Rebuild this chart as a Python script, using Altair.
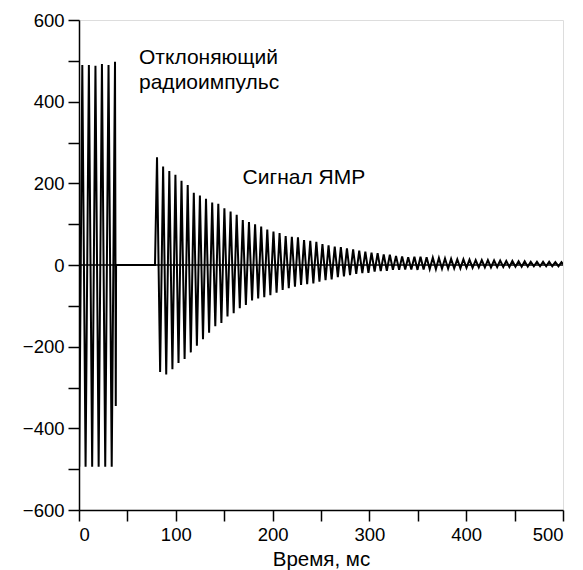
import altair as alt
import pandas as pd

# Deflecting RF pulse: vertices (time, ms / amplitude)
pulse_t = [0.0, 0.2, 3.4, 6.8, 10.2, 13.6, 17.0, 20.3, 23.7, 27.1, 30.5, 33.8, 37.2, 38.0, 38.3]
pulse_v = [0, -494, 490, -494, 490, -494, 488, -494, 492, -494, 490, -494, 498, -345, 0]

# NMR signal: positive peaks
sig_pos_t = [80.6, 86.9, 93.3, 99.6, 105.9, 112.3, 118.6, 124.9, 131.2, 137.6,
             143.9, 150.2, 156.6, 162.9, 169.2, 175.6, 181.9, 188.2, 194.5, 200.9,
             207.2, 213.5, 219.9, 226.2, 232.5, 238.9, 245.2, 251.5, 257.8, 264.2,
             270.5, 276.8, 283.2, 289.5, 295.8, 302.2, 308.5, 314.8, 321.1, 327.5,
             333.8, 340.1, 346.5, 352.8, 359.1, 365.5, 371.8, 378.1, 384.4, 390.8,
             397.1, 403.4, 409.8, 416.1, 422.4, 428.8, 435.1, 441.4, 447.7, 454.1,
             460.4, 466.7, 473.1, 479.4, 485.7, 492.1, 498.4]
sig_pos_v = [264, 241, 230, 221, 206, 196, 177, 170, 162, 153, 150, 139, 131, 123,
             110, 105, 100, 94, 87, 82, 78, 71, 69, 68, 61, 59, 57, 51,
             48, 45, 44, 41, 38, 35, 33, 30, 29, 26, 25, 22,
             21, 19, 20, 20, 19, 18, 17, 16, 15, 14, 14, 13, 12, 12,
             12, 11, 11, 10, 10, 9, 9, 8, 8, 8, 8, 7, 7]

# NMR signal: negative peaks
sig_neg_t = [83.8, 90.1, 96.5, 102.8, 109.1, 115.5, 121.8, 128.1, 134.4, 140.8,
             147.1, 153.4, 159.8, 166.1, 172.4, 178.8, 185.1, 191.4, 197.7, 204.1,
             210.4, 216.7, 223.1, 229.4, 235.7, 242.1, 248.4, 254.7, 261.0, 267.4,
             273.7, 280.0, 286.4, 292.7, 299.0, 305.4, 311.7, 318.0, 324.3, 330.7,
             337.0, 343.3, 349.7, 356.0, 362.3, 368.7, 375.0, 381.3, 387.6, 394.0,
             400.3, 406.6, 413.0, 419.3, 425.6, 432.0, 438.3, 444.6, 450.9, 457.3,
             463.6, 469.9, 476.3, 482.6, 488.9, 495.3]
sig_neg_v = [-262, -268, -255, -240, -230, -214, -198, -182, -166, -150, -142, -126, -118, -106,
             -98, -87, -82, -79, -74, -68, -61, -57, -53, -49, -47, -45, -41, -37,
             -35, -30, -28, -25, -22, -20, -19, -16, -15, -14, -12, -12,
             -11, -11, -12, -11, -10, -10, -9, -9, -8, -8, -7, -7, -6, -6,
             -6, -5, -5, -5, -4, -4, -4, -3, -3, -3, -3, -3]

sig_start = (78.5, 0)
sig_end = (500.0, 2)

labels_text = ["Отклоняющий", "радиоимпульс", "Сигнал ЯМР"]
labels_t = [62, 62, 169]
labels_v = [507, 446, 213]

x_ticks = list(range(0, 501, 50))
y_ticks = list(range(-600, 601, 100))

# build the ordered vertex table
ts, vs = list(pulse_t), list(pulse_v)
ts.append(sig_start[0]); vs.append(sig_start[1])
for i in range(len(sig_pos_t)):
    ts.append(sig_pos_t[i]); vs.append(sig_pos_v[i])
    if i < len(sig_neg_t):
        ts.append(sig_neg_t[i]); vs.append(sig_neg_v[i])
ts.append(sig_end[0]); vs.append(sig_end[1])
df = pd.DataFrame({"t": ts, "v": vs, "o": list(range(len(ts)))})

FONT = "Liberation Sans"

xscale = alt.Scale(domain=[0, 500], nice=False, zero=False)
yscale = alt.Scale(domain=[-600, 600], nice=False)

xaxis = alt.Axis(values=x_ticks, labelExpr="datum.value % 100 === 0 ? datum.label : ''",
                 title="Время, мс", grid=False, tickSize=11, labelPadding=4,
                 titlePadding=6, labelFontSize=18.5, titleFontSize=20.5,
                 titleFontWeight="normal", labelFont=FONT, titleFont=FONT,
                 domainColor="black", tickColor="black", labelColor="black",
                 titleColor="black", domainWidth=1.5, tickWidth=1.5)
yaxis = alt.Axis(values=y_ticks, labelExpr="datum.value % 200 === 0 ? datum.label : ''",
                 title=None, grid=False, tickSize=11, labelPadding=4,
                 labelFontSize=18.5, labelFont=FONT,
                 domainColor="black", tickColor="black", labelColor="black",
                 domainWidth=1.5, tickWidth=1.5)

zero = alt.Chart(pd.DataFrame({"t": [0], "t2": [500], "v": [0]})).mark_rule(
    color="black", strokeWidth=1.5
).encode(
    x=alt.X("t:Q", scale=xscale, axis=xaxis),
    x2="t2:Q",
    y=alt.Y("v:Q", scale=yscale, axis=yaxis),
)

line = alt.Chart(df).mark_line(color="black", strokeWidth=2, clip=True).encode(
    x=alt.X("t:Q", scale=xscale),
    y=alt.Y("v:Q", scale=yscale),
    order="o:Q",
)

txt = alt.Chart(pd.DataFrame({"t": labels_t, "v": labels_v, "s": labels_text})).mark_text(
    align="left", baseline="middle", fontSize=21, font=FONT, color="black"
).encode(
    x=alt.X("t:Q", scale=xscale),
    y=alt.Y("v:Q", scale=yscale),
    text="s:N",
)

chart = alt.layer(zero, line, txt).properties(
    width=484, height=490,
    autosize=alt.AutoSizeParams(type="none"),
    padding={"left": 79, "top": 20, "right": 20, "bottom": 60},
).configure_view(stroke=None).configure(background="white")

chart.save("out.html", embed_options={"renderer": "svg", "actions": False})
